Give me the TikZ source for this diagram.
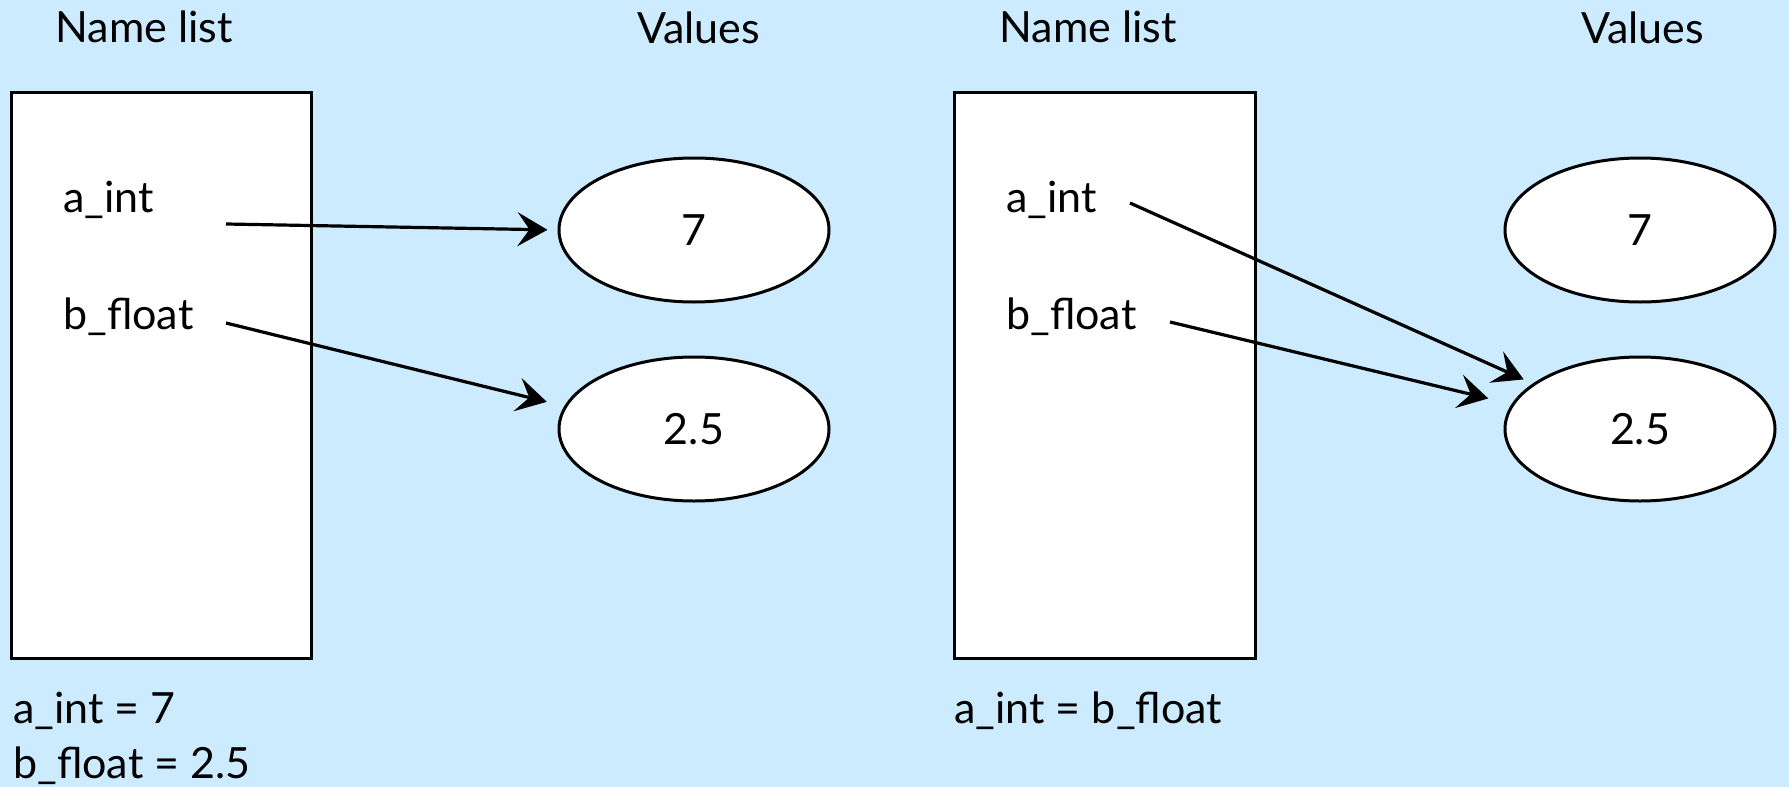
\documentclass[tikz,border=0pt]{standalone}
\usepackage{fontspec}
\setmainfont{Lato}
\usetikzlibrary{arrows.meta,shapes.geometric}
\definecolor{paleblue}{RGB}{204,235,255}

\begin{document}
\begin{tikzpicture}[
  x=0.5pt, y=-0.5pt,
  >={Stealth[length=15pt, width=17pt, inset=6pt]},
  every node/.style={font=\fontsize{21.5}{26}\selectfont, inner sep=0pt},
  namebox/.style={draw=black, fill=white, line width=1.5pt},
  valcell/.style={ellipse, draw=black, fill=white, line width=1.5pt, minimum width=135pt, minimum height=72pt},
  label/.style={anchor=base west},
  bind/.style={->, line width=1.6pt},
]

% ---- background and page size ----
\fill[paleblue] (0,0) rectangle (1789,787);
\useasboundingbox (0,0) rectangle (1789,787);

% ---- left half: after the two assignments ----
\node[label] (hdnamel) at (55,42)  {Name list};
\node[label] (hdvall)  at (637,43) {Values};
\draw[namebox] (11,92) rectangle (311,658);
\node[label] (aintl)   at (63,212) {a\_int};
\node[label] (bfloatl) at (63,329) {b\_float};
\node[valcell] (sevenl) at (694,230) {7};
\node[valcell] (halfl)  at (694,429) {2.5};
\coordinate (aoutl) at (226,224);
\coordinate (boutl) at (226,323);
\draw[bind, shorten >=5pt] (aoutl) -- (sevenl.west);
\draw[bind, shorten >=9pt] (boutl) -- (halfl.170);
\node[label] (asgal) at (13,723) {a\_int = 7};
\node[label] (asgbl) at (13,778) {b\_float = 2.5};

% ---- right half: after a_int = b_float ----
\node[label] (hdnamer) at (999,42)  {Name list};
\node[label] (hdvalr)  at (1581,43) {Values};
\draw[namebox] (954,92) rectangle (1255,658);
\node[label] (aintr)   at (1006,212) {a\_int};
\node[label] (bfloatr) at (1006,329) {b\_float};
\node[valcell] (sevenr) at (1640,230) {7};
\node[valcell] (halfr)  at (1640,429) {2.5};
\coordinate (aoutr) at (1130,203);
\coordinate (boutr) at (1170,322);
\draw[bind, shorten >=5pt]  (aoutr) -- (halfr.157);
\draw[bind, shorten >=12pt] (boutr) -- (halfr.169);
\node[label] (asgar) at (954,723) {a\_int = b\_float};

\end{tikzpicture}
\end{document}
